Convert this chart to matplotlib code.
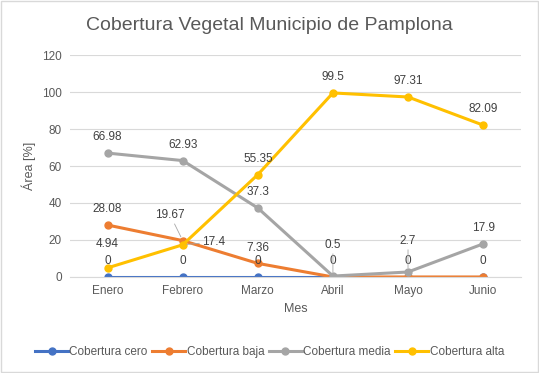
import matplotlib.pyplot as plt
import matplotlib.patches as mpatches

meses = ['Enero', 'Febrero', 'Marzo', 'Abril', 'Mayo', 'Junio']
cob_cero = [0, 0, 0, 0, 0, 0]
cob_baja = [28.08, 19.67, 7.36, 0, 0, 0]
cob_media = [66.98, 62.93, 37.3, 0.5, 2.7, 17.9]
cob_alta = [4.94, 17.4, 55.35, 99.5, 97.31, 82.09]

series = [
    ('Cobertura cero', cob_cero, '#4472C4'),
    ('Cobertura baja', cob_baja, '#ED7D31'),
    ('Cobertura media', cob_media, '#A5A5A5'),
    ('Cobertura alta', cob_alta, '#FFC000'),
]

plt.rcParams['font.family'] = ['Liberation Sans', 'DejaVu Sans']
gris = '#595959'

fig = plt.figure(figsize=(5.39, 3.73), dpi=100)
ax = fig.add_axes([0.130, 0.2574, 0.836, 0.5951])
fig.patches.append(mpatches.Rectangle((0.002, 0.003), 0.996, 0.994, transform=fig.transFigure,
                                      fill=False, edgecolor='#D9D9D9', linewidth=1))

x = list(range(len(meses)))
for nombre, valores, color in series:
    ax.plot(x, valores, color=color, linewidth=2.2, marker='o', markersize=5, label=nombre)

# etiquetas con linea guia (las que Excel movio)
movidas = {
    ('Cobertura alta', 1): (14, 2, 'left', 'center'),
    ('Cobertura baja', 1): (-9, 14, 'center', 'bottom'),
    ('Cobertura media', 3): (0, 18, 'center', 'bottom'),
    ('Cobertura media', 4): (0, 18, 'center', 'bottom'),
}

for nombre, valores, color in series:
    for i, v in enumerate(valores):
        if nombre == 'Cobertura baja' and v == 0:
            continue
        if (nombre, i) in movidas:
            dx, dy, ha, va = movidas[(nombre, i)]
            ax.annotate(f'{v:g}', (i, v), xytext=(dx, dy), textcoords='offset points', ha=ha,
                        va=va, fontsize=8.5, color='#404040',
                        arrowprops=dict(arrowstyle='-', color='#A6A6A6', lw=0.6, shrinkA=0, shrinkB=3))
            continue
        dy = 13 if (nombre == 'Cobertura alta' and i == 0) else 7
        ax.annotate(f'{v:g}', (i, v), xytext=(0, dy), textcoords='offset points', ha='center',
                    va='bottom', fontsize=8.5, color='#404040')

ax.set_xlim(-0.5, 5.5)
ax.set_ylim(0, 120)
ax.set_yticks(range(0, 121, 20))
ax.set_xticks(x)
ax.set_xticklabels(meses)
ax.tick_params(length=0, labelsize=8.5, colors=gris, pad=6)
ax.grid(axis='y', color='#D9D9D9', linewidth=0.8)
ax.set_axisbelow(True)
for s in ['top', 'right', 'left']:
    ax.spines[s].set_visible(False)
ax.spines['bottom'].set_color('#D9D9D9')

ax.set_xlabel('Mes', fontsize=9, color=gris)
ax.set_ylabel('Área [%]', fontsize=9, color=gris)
fig.suptitle('Cobertura Vegetal Municipio de Pamplona', fontsize=14, color=gris, y=0.955)

fig.legend(loc='center', bbox_to_anchor=(0.5, 0.055), ncol=4, frameon=False, fontsize=8.5,
           handlelength=2.8, columnspacing=0.4, handletextpad=0.1, labelcolor=gris)

fig.savefig('out.png', dpi=100)
